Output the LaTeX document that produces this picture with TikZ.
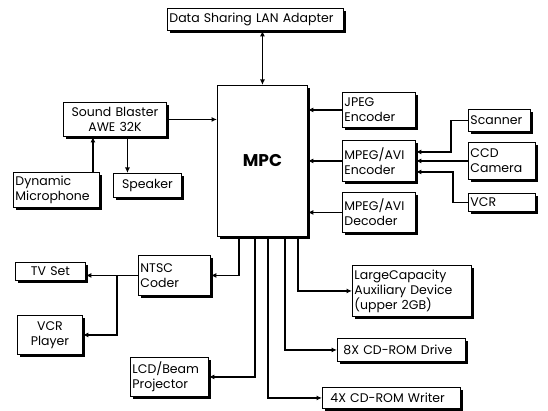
\documentclass[tikz,border=0pt]{standalone}
\usepackage{fontspec}
\setmainfont{Poppins}
\usetikzlibrary{shadows,arrows.meta}

\tikzstyle{unit}=[draw=black, fill=white, line width=0.9pt, anchor=north west, inner sep=2pt, drop shadow={shadow xshift=3pt, shadow yshift=-3pt, fill=black, opacity=1}, font=\fontsize{12.5}{15}\selectfont]
\tikzstyle{link}=[line width=1.8pt, -{Latex[length=5.5pt,width=5pt]}]

\begin{document}
\begin{tikzpicture}[x=1pt, y=-1pt]
	\useasboundingbox (0,0) rectangle (548,411);

	% The multimedia PC and its network card
	\node[unit, text width=172pt, minimum height=22pt, align=left] (lan) at (167,8) {Data Sharing LAN Adapter};
	\node[unit, text width=86pt, minimum height=151pt, align=center, font=\fontsize{17}{18}\selectfont\bfseries] (mpc) at (217,85) {MPC};

	% Sound
	\node[unit, text width=99pt, minimum height=34pt, align=center] (sb) at (63,102) {Sound Blaster\\AWE 32K};
	\node[unit, text width=82pt, minimum height=35pt, align=left] (mic) at (13,172) {Dynamic\\Microphone};
	\node[unit, text width=64pt, minimum height=24pt, align=center] (spk) at (113,173) {Speaker};

	% Coders and sources
	\node[unit, text width=69pt, minimum height=35pt, align=left] (jpeg) at (342,92) {JPEG\\Encoder};
	\node[unit, text width=69pt, minimum height=41pt, align=left] (menc) at (342,140) {MPEG/AVI\\Encoder};
	\node[unit, text width=69pt, minimum height=40pt, align=left] (mdec) at (342,192) {MPEG/AVI\\Decoder};
	\node[unit, text width=58pt, minimum height=22pt, align=left] (scan) at (468,109) {Scanner};
	\node[unit, text width=63pt, minimum height=37pt, align=left] (ccd) at (468,142) {CCD\\Camera};
	\node[unit, text width=63pt, minimum height=18pt, align=left] (vcr) at (468,193) {VCR};

	% Outputs
	\node[unit, text width=68pt, minimum height=40pt, align=left] (ntsc) at (138,255) {NTSC\\Coder};
	\node[unit, text width=66pt, minimum height=18pt, align=center] (tv) at (15,262) {TV Set};
	\node[unit, text width=61pt, minimum height=39pt, align=center] (vcrp) at (17,315) {VCR\\Player};
	\node[unit, text width=74pt, minimum height=39pt, align=left] (lcd) at (130,357) {LCD/Beam\\Projector};
	\node[unit, text width=115pt, minimum height=51pt, align=left] (large) at (352,265) {LargeCapacity\\Auxiliary Device\\(upper 2GB)};
	\node[unit, text width=124pt, minimum height=23pt, align=left] (cd8) at (337,338) {\hspace{4pt}8X CD-ROM Drive};
	\node[unit, text width=134pt, minimum height=21pt, align=left] (cd4) at (322,387) {\hspace{6pt}4X CD-ROM Writer};

	% Connections
	\draw[link, {Latex[length=5.5pt,width=5pt]}-{Latex[length=5.5pt,width=5pt]}] (mpc.north |- lan.south) -- (mpc.north);
	\draw[link] (sb.east) -- (sb.east -| mpc.west);
	\draw[link] ([xshift=-7pt]mic.north east) -- ([xshift=-7pt]mic.north east |- sb.south);
	\draw[link] ([xshift=-20pt]spk.north |- sb.south) -- ([xshift=-20pt]spk.north);

	\foreach \n in {jpeg, menc, mdec}{ \draw[link] (\n.west) -- (\n.west -| mpc.east); }
	\draw[link] (scan.west) -- ++(-17,0) |- ([yshift=9pt]menc.east);
	\draw[link] (ccd.west) -- (ccd.west -| menc.east);
	\draw[link] (vcr.west) -- ++(-15,0) |- ([yshift=-11pt]menc.east);

	\draw[link] ([xshift=22pt]mpc.south west) |- (ntsc.east);
	\coordinate (split) at ([xshift=-21pt]ntsc.west);
	\draw[link] (ntsc.west) -- (ntsc.west -| tv.east);
	\draw[link] (split) |- (vcrp.east);
	\draw[link] ([xshift=38pt]mpc.south west) |- (lcd.east);
	\draw[link] ([xshift=51pt]mpc.south west) |- (cd4.west);
	\draw[link] ([xshift=68pt]mpc.south west) |- (cd8.west);
	\draw[link] ([xshift=81pt]mpc.south west) |- (large.west);
\end{tikzpicture}
\end{document}
